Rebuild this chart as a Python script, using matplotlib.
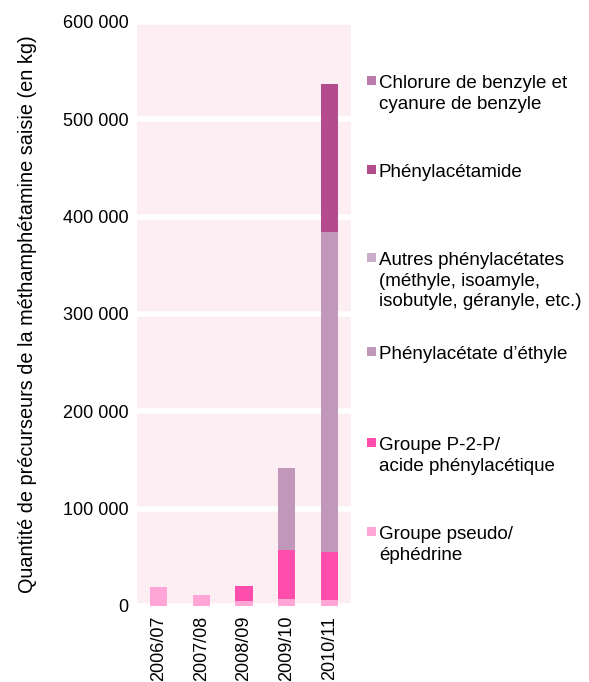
import numpy as np
import matplotlib
matplotlib.use("Agg")
import matplotlib.pyplot as plt
from matplotlib.patches import Rectangle
from matplotlib.ticker import FixedLocator

plt.rcParams['font.family'] = ['Liberation Sans', 'DejaVu Sans']

# Data (kg)
years = ['2006/07', '2007/08', '2008/09', '2009/10', '2010/11']
pseudo = [19200, 11600, 5500, 6900, 6200]
p2p = [0, 0, 15400, 50600, 49300]
ethyl = [0, 0, 0, 84000, 329000]
autres = [0, 0, 0, 0, 0]
acetamide = [0, 0, 0, 0, 151800]
chlorure = [0, 0, 0, 0, 0]

yticks = [0, 100000, 200000, 300000, 400000, 500000, 600000]
ytick_labels = ['0', '100 000', '200 000', '300 000', '400 000', '500 000', '600 000']

series = [
    (pseudo, '#ffa6d6', 'Groupe pseudo/\néphédrine'),
    (p2p, '#ff4dab', 'Groupe P-2-P/\nacide phénylacétique'),
    (ethyl, '#c298ba', 'Phénylacétate d\u2019éthyle'),
    (autres, '#caadc8', 'Autres phénylacétates\n(méthyle, isoamyle,\nisobutyle, géranyle, etc.)'),
    (acetamide, '#b44b8c', 'Phénylacétamide'),
    (chlorure, '#b97ba9', 'Chlorure de benzyle et\ncyanure de benzyle'),
]

W, H = 589, 682
fig = plt.figure(figsize=(W / 100, H / 100), dpi=100)
ax = fig.add_axes([137 / W, 1 - 606 / H, (351 - 137) / W, (606 - 22) / H])
ax.set_facecolor('#fdeef4')

x = np.arange(len(years))
bottom = np.zeros(len(years))
for vals, col, lab in series:
    ax.bar(x, vals, width=0.4, bottom=bottom, color=col, zorder=3)
    bottom += np.array(vals)

ax.set_xlim(-0.5, 4.5)
ax.set_ylim(0, 600000)
ax.yaxis.set_major_locator(FixedLocator(yticks))
ax.set_yticklabels(ytick_labels, fontsize=13)
ax.set_xticks(x)
ax.set_xticklabels(years, rotation=90, fontsize=13)
ax.tick_params(length=0)
ax.tick_params(axis='y', pad=6)
ax.tick_params(axis='x', pad=7)
ax.grid(axis='y', color='white', linewidth=4, zorder=1)
for s in ax.spines.values():
    s.set_visible(False)

ax.set_ylabel('Quantité de précurseurs de la méthamphétamine saisie (en kg)',
              fontsize=14.3, labelpad=19)

# Legend, placed by hand (uneven spacing in the reference)
legend_tops = {
    'Chlorure de benzyle et\ncyanure de benzyle': 75,
    'Phénylacétamide': 164,
    'Autres phénylacétates\n(méthyle, isoamyle,\nisobutyle, géranyle, etc.)': 252,
    'Phénylacétate d\u2019éthyle': 346,
    'Groupe P-2-P/\nacide phénylacétique': 437,
    'Groupe pseudo/\néphédrine': 526,
}
for vals, col, lab in series:
    top = legend_tops[lab]
    fig.add_artist(Rectangle((367 / W, 1 - (top + 9.5) / H), 9 / W, 9 / H,
                             transform=fig.transFigure, color=col, lw=0))
    fig.text(379 / W, 1 - top / H, lab, fontsize=13.5, va='top', ha='left',
             linespacing=1.27)

fig.savefig('out.png', dpi=100)
